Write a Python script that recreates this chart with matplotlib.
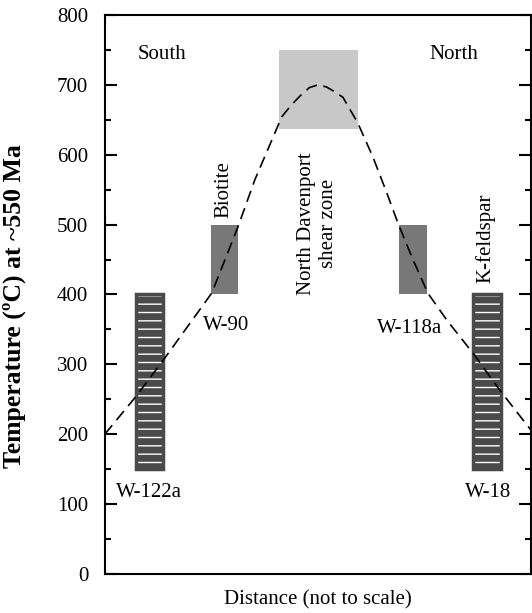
import matplotlib
matplotlib.use('Agg')
import matplotlib.pyplot as plt
from matplotlib.ticker import MultipleLocator

plt.rcParams['font.family'] = ['Liberation Serif', 'DejaVu Serif']

# temperature path across the section (distance in arbitrary 0-100 units)
curve_x = [0, 7.3, 13.6, 25.1, 31.2, 35.2, 39.2, 41.5, 43.6, 45.8, 48.0, 50.0,
           52.0, 54.0, 55.9, 59.4, 62.9, 66.2, 68.8, 72.1, 75.8, 80.3, 86.4,
           92.7, 100]
curve_t = [200, 254, 305, 402, 496, 564, 621, 654, 670, 684, 696, 700,
           697, 690, 682, 645, 597, 545, 502, 453, 402, 363, 316,
           263, 206]

# K-feldspar samples (hatched bars): x0, x1, bottom, top
kfs_names = ['W-122a', 'W-18']
kfs_x0 = [7.3, 86.4]
kfs_x1 = [13.6, 93.0]
kfs_lo = [150, 150]
kfs_hi = [400, 400]

# biotite samples
bt_names = ['W-90', 'W-118a']
bt_x0 = [24.9, 69.0]
bt_x1 = [31.2, 75.6]
bt_lo = [400, 400]
bt_hi = [500, 500]

# shear zone box
sz_x0, sz_x1 = 40.8, 59.4
sz_lo, sz_hi = 637, 750

fig = plt.figure(figsize=(5.32, 6.13), dpi=100)
ax = fig.add_axes([0.197, 0.0636, 0.801, 0.912])

for x0, x1, lo, hi in zip(kfs_x0, kfs_x1, kfs_lo, kfs_hi):
    ax.bar(x0, hi - lo, width=x1 - x0, bottom=lo, align='edge',
           color='#4a4a4a', edgecolor='white', hatch='--', linewidth=0, zorder=2)
    ax.bar(x0, hi - lo, width=x1 - x0, bottom=lo, align='edge',
           fill=False, edgecolor='#4a4a4a', linewidth=2.5, zorder=2)

for x0, x1, lo, hi in zip(bt_x0, bt_x1, bt_lo, bt_hi):
    ax.bar(x0, hi - lo, width=x1 - x0, bottom=lo, align='edge',
           color='#787878', linewidth=0, zorder=2)

ax.bar(sz_x0, sz_hi - sz_lo, width=sz_x1 - sz_x0, bottom=sz_lo, align='edge',
       color='#c8c8c8', linewidth=0, zorder=1)

ax.plot(curve_x, curve_t, color='black', lw=1.2, dashes=(7, 4), zorder=3)

fs = 15
ax.text(13.4, 744, 'South', ha='center', va='center', fontsize=fs)
ax.text(81.9, 744, 'North', ha='center', va='center', fontsize=fs)
ax.text(27.9, 509, 'Biotite', rotation=90, ha='center', va='bottom', fontsize=fs)
ax.text(89.4, 416, 'K-feldspar', rotation=90, ha='center', va='bottom', fontsize=fs)
ax.text(50.0, 604, 'North Davenport\nshear zone', rotation=90, ha='center',
        va='top', multialignment='center', fontsize=fs)
ax.text(28.4, 355, bt_names[0], ha='center', va='center', fontsize=fs)
ax.text(71.6, 352, bt_names[1], ha='center', va='center', fontsize=fs)
ax.text(10.3, 117, kfs_names[0], ha='center', va='center', fontsize=fs)
ax.text(89.9, 117, kfs_names[1], ha='center', va='center', fontsize=fs)

ax.set_xlim(0, 100)
ax.set_ylim(0, 800)
ax.yaxis.set_major_locator(MultipleLocator(100))
ax.yaxis.set_minor_locator(MultipleLocator(50))
ax.set_xticks([])
ax.tick_params(axis='y', which='both', direction='in', right=True,
               labelsize=fs, width=1.5, pad=12)
ax.tick_params(axis='y', which='major', length=8.5)
ax.tick_params(axis='y', which='minor', length=4)
for s in ax.spines.values():
    s.set_linewidth(1.5)

ax.set_ylabel('Temperature (ºC) at ~550 Ma', fontsize=18.5, fontweight='bold')
ax.yaxis.set_label_coords(-0.185, 0.48)
ax.set_xlabel('Distance (not to scale)', fontsize=fs, labelpad=12)

fig.savefig('out.png', dpi=100)
